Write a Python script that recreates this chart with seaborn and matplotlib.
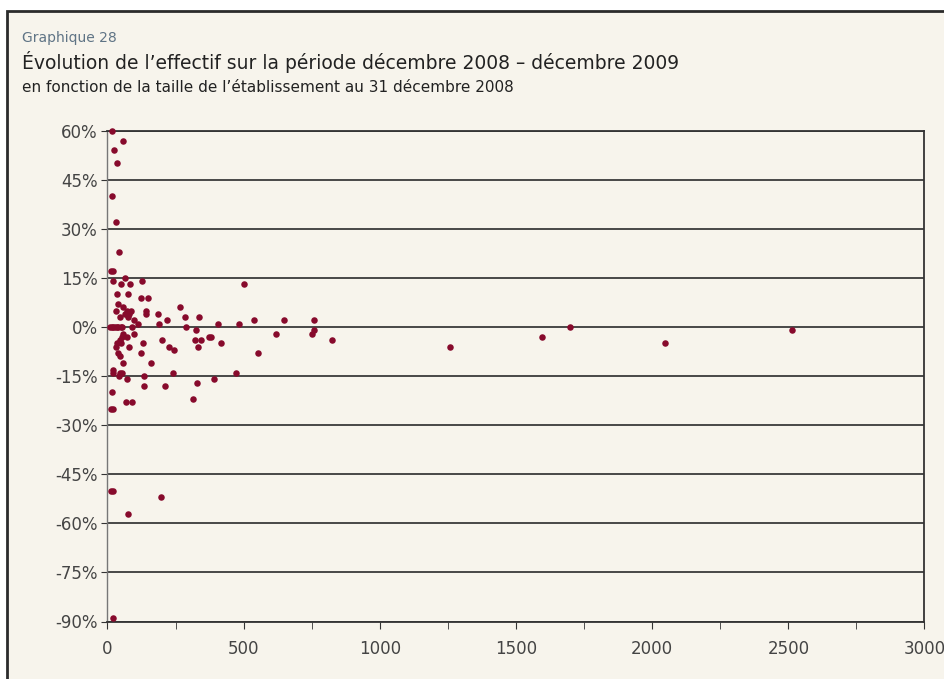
import pandas as pd
import seaborn as sns
import matplotlib.pyplot as plt
from matplotlib.patches import Rectangle

# taille de l'établissement (effectif au 31/12/2008) et évolution de l'effectif (%)
taille = [16, 57, 24, 34, 16, 30, 42,
          12, 22, 63, 19, 50, 83, 128,
          34, 74, 124, 150, 40, 58, 267,
          31, 70, 86, 141, 141, 185, 64, 80,
          46, 75, 284, 337,
          96, 217, 538, 648, 759,
          113, 188, 404, 484, 502,
          10, 16, 22, 28, 34, 40, 48, 55, 91, 288, 1700,
          324, 759, 2515,
          98, 58, 618, 750,
          73, 53, 372, 380, 1596,
          46, 201, 322, 344, 825,
          36, 51, 131, 418, 2046,
          30, 78, 225, 331, 1257,
          245, 122, 37, 551, 46,
          56, 160,
          19, 19, 46, 53, 240, 473,
          43, 134, 73, 391, 330, 135, 212,
          16, 315, 68, 91, 14, 21,
          14, 20, 195, 75, 21]
evolution = [60, 57, 54, 50, 40, 32, 23,
             17, 17, 15, 14, 13, 13, 14,
             10, 10, 9, 9, 7, 6, 6,
             5, 5, 5, 5, 4, 4, 4, 4,
             3, 3, 3, 3,
             2, 2, 2, 2, 2,
             1, 1, 1, 1, 13,
             0, 0, 0, 0, 0, 0, 0, 0, 0, 0, 0,
             -1, -1, -1,
             -2, -2, -2, -2,
             -3, -3, -3, -3, -3,
             -4, -4, -4, -4, -4,
             -5, -5, -5, -5, -5,
             -6, -6, -6, -6, -6,
             -7, -8, -8, -8, -9,
             -11, -11,
             -13, -14, -14, -14, -14, -14,
             -15, -15, -16, -16, -17, -18, -18,
             -20, -22, -23, -23, -25, -25,
             -50, -50, -52, -57, -89]

y_ticks = [60, 45, 30, 15, 0, -15, -30, -45, -60, -75, -90]
y_labels = ["60%", "45%", "30%", "15%", "0%", "-15%", "-30%", "-45%", "-60%", "-75%", "-90%"]
x_ticks = [0, 500, 1000, 1500, 2000, 2500, 3000]

df = pd.DataFrame({"Taille": taille, "Evolution": evolution})

bg = "#f7f4ec"
sns.set_style("white")
plt.rcParams['font.family'] = ['DejaVu Sans']

fig = plt.figure(figsize=(9.45, 6.79), dpi=100, facecolor="white")
# panneau crème avec bordure
fig.patches.append(Rectangle((7 / 945, -0.05), 1.0, 1 - 11 / 679 + 0.05,
                             transform=fig.transFigure, facecolor=bg,
                             edgecolor="#2b2b2b", linewidth=2, zorder=-5))

ax = fig.add_axes([107.5 / 945, 1 - 621.5 / 679, 817 / 945, 490.8 / 679])
ax.set_facecolor(bg)

sns.scatterplot(data=df, x="Taille", y="Evolution", ax=ax, color="#870a2c",
                s=22, linewidth=0, zorder=3, clip_on=False)

ax.set_xlim(0, 3000)
ax.set_ylim(-90, 60)
ax.set_xticks(x_ticks)
ax.set_xticks(range(250, 3000, 500), minor=True)
ax.set_yticks(y_ticks)
ax.set_yticklabels(y_labels)
ax.yaxis.grid(True, color="#3a3a3a", linewidth=1.3)
ax.set_axisbelow(True)
ax.tick_params(axis="x", which="both", direction="out", length=5, color="#333333",
               labelsize=12, labelcolor="#444444", pad=8, bottom=True)
ax.tick_params(axis="y", direction="out", length=4, color="#333333",
               labelsize=12, labelcolor="#444444", pad=3, left=True)
for side in ["top", "right", "bottom"]:
    ax.spines[side].set_color("#333333")
    ax.spines[side].set_linewidth(1.3)
ax.spines["left"].set_color("#777777")
ax.spines["left"].set_linewidth(1.0)
ax.set(xlabel="", ylabel="")

fig.text(22 / 945, 1 - 38 / 679, "Graphique 28", fontsize=10, color="#5f7485", va="center")
fig.text(22 / 945, 1 - 62 / 679,
         "Évolution de l’effectif sur la période décembre 2008 – décembre 2009",
         fontsize=13.5, color="#222222", va="center")
fig.text(22 / 945, 1 - 88 / 679,
         "en fonction de la taille de l’établissement au 31 décembre 2008",
         fontsize=11, color="#222222", va="center")

fig.savefig("out.png", dpi=100, facecolor="white")
